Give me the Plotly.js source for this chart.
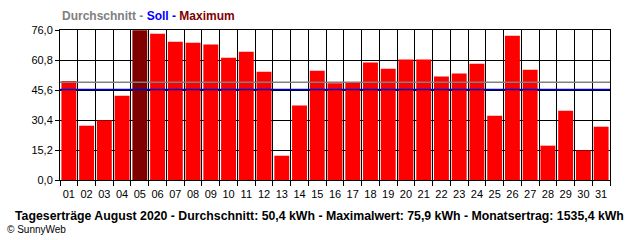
<!DOCTYPE html>
<html>
<head>
<meta charset="utf-8">
<script src="https://cdn.plot.ly/plotly-3.0.1.min.js"></script>
<style>html,body{margin:0;padding:0;background:#fff;}#chart{width:640px;height:240px;}</style>
</head>
<body>
<div id="chart"></div>
<script>
var days = ["01","02","03","04","05","06","07","08","09","10","11","12","13","14","15","16","17","18","19","20","21","22","23","24","25","26","27","28","29","30","31"];
var yields = [50.2,27.5,30.2,42.7,75.9,74.1,70.1,69.6,68.6,62.0,65.0,54.9,12.3,37.7,55.4,49.0,49.7,59.5,56.4,61.0,61.0,52.4,53.9,58.9,32.6,73.1,55.9,17.4,35.1,15.0,27.0];
var averageValue = 49.5;
var targetValue = 45.9;
var yTickVals = [0, 15.2, 30.4, 45.6, 60.8, 76.0];
var yTickText = ["0,0","15,2","30,4","45,6","60,8","76,0"];
var titleText = "Tageserträge August 2020 - Durchschnitt: 50,4 kWh - Maximalwert: 75,9 kWh - Monatsertrag: 1535,4 kWh";

var maxVal = Math.max.apply(null, yields);
var colors = yields.map(function(v){ return v === maxVal ? "#800000" : "#ff0000"; });

var font = "Liberation Sans, Arial, sans-serif";

var traces = [
  {type:"bar", x:days, y:yields, marker:{color:colors, line:{width:0}}, hoverinfo:"skip"},
  {type:"scatter", mode:"lines", x:[0, 1], y:[averageValue, averageValue], xaxis:"x2", line:{color:"#808080", width:1.5}, hoverinfo:"skip"},
  {type:"scatter", mode:"lines", x:[0, 1], y:[targetValue, targetValue], xaxis:"x2", line:{color:"#0000cc", width:1.5}, hoverinfo:"skip"}
];

var layout = {
  width:640, height:240,
  margin:{l:60, r:30, t:30, b:60},
  paper_bgcolor:"#fff", plot_bgcolor:"#fff",
  showlegend:false,
  bargap:0.16,
  font:{family:font, size:11, color:"#000"},
  xaxis:{type:"category", tickson:"boundaries", showgrid:true, gridcolor:"#000", gridwidth:1,
         ticks:"outside", ticklen:5, tickcolor:"#000", tickwidth:1, tickangle:0, ticklabelstandoff:4,
         showline:true, linecolor:"#000", linewidth:1, mirror:true,
         tickfont:{family:font, size:11, color:"#000"}, zeroline:false, fixedrange:true},
  xaxis2:{overlaying:"x", range:[0, 1], visible:false, fixedrange:true},
  yaxis:{range:[0,76], tickvals:yTickVals, ticktext:yTickText, showgrid:true, gridcolor:"#000", gridwidth:1,
         ticks:"outside", ticklen:4, tickcolor:"#000",
         showline:true, linecolor:"#000", linewidth:1, mirror:true, zeroline:false,
         tickfont:{family:font, size:11, color:"#000"}, fixedrange:true},
  annotations:[
    {xref:"paper", yref:"paper", x:0, y:1.09, xanchor:"left", yanchor:"middle", showarrow:false,
     text:"<b><span style='color:#808080'>Durchschnitt - </span><span style='color:#0000ff'>Soll - </span><span style='color:#800000'>Maximum</span></b>",
     font:{family:font, size:12}},
    {xref:"paper", yref:"paper", x:0.471, y:-0.24, xanchor:"center", yanchor:"middle", showarrow:false,
     text:"<b>"+titleText+"</b>", font:{family:font, size:12.3, color:"#000"}},
    {xref:"paper", yref:"paper", x:-0.1, y:-0.333, xanchor:"left", yanchor:"middle", showarrow:false,
     text:"© SunnyWeb", font:{family:font, size:10, color:"#000"}}
  ]
};

Plotly.newPlot("chart", traces, layout, {displayModeBar:false, staticPlot:true});
</script>
</body>
</html>
